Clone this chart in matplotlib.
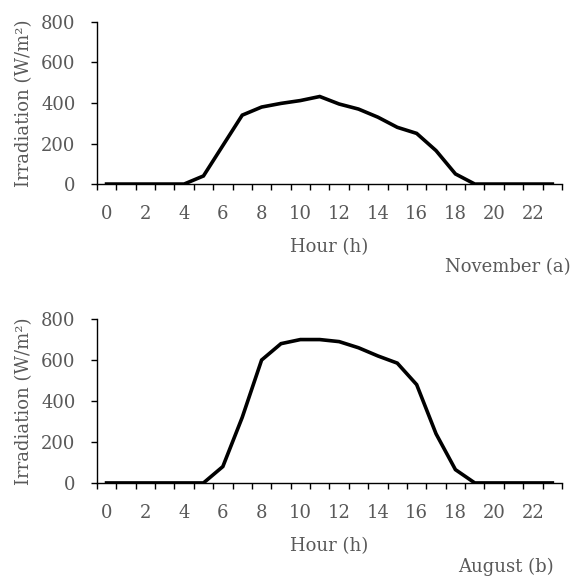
import matplotlib
matplotlib.use("Agg")
import matplotlib.pyplot as plt
import numpy as np

hours = list(range(24))
november = [0, 0, 0, 0, 0, 40, 190, 340, 380, 398, 412, 432,
            395, 370, 330, 280, 250, 165, 50, 0, 0, 0, 0, 0]
august = [0, 0, 0, 0, 0, 0, 80, 320, 600, 680, 700, 700,
          690, 660, 620, 585, 480, 240, 65, 0, 0, 0, 0, 0]
hour_labels = [str(h) for h in range(0, 24, 2)]
y_ticks = [0, 200, 400, 600, 800]

TEXT = "#595959"
FS = 13
plt.rcParams["font.family"] = ["DejaVu Serif"]

fig = plt.figure(figsize=(5.8, 5.77), dpi=100)
# (values, caption, axes rect, caption x, caption y)
panels = [
    (november, "November (a)", [0.167, 0.681, 0.802, 0.281], 0.983, 0.537),
    (august, "August (b)", [0.167, 0.163, 0.802, 0.284], 0.954, 0.017),
]

for values, caption, rect, cap_x, cap_y in panels:
    ax = fig.add_axes(rect)
    ax.plot(hours, values, color="black", linewidth=2.6, solid_joinstyle="miter")
    ax.set_xlim(-0.5, 23.5)
    ax.set_ylim(0, 800)
    for side in ("top", "right"):
        ax.spines[side].set_visible(False)
    for side in ("left", "bottom"):
        ax.spines[side].set_linewidth(1.0)
        ax.spines[side].set_color("black")
    # excel-style category axis: ticks on boundaries, labels on centres
    ax.set_xticks(np.arange(-0.5, 24, 1.0))
    ax.set_xticklabels([])
    ax.set_xticks(range(0, 24, 2), minor=True)
    ax.set_xticklabels(hour_labels, minor=True)
    ax.tick_params(axis="x", which="major", direction="out", length=4.3, width=1)
    ax.tick_params(axis="x", which="minor", length=0, pad=15,
                   labelsize=FS, labelcolor=TEXT)
    ax.set_yticks(y_ticks)
    ax.tick_params(axis="y", direction="out", length=4.3, width=1, pad=11,
                   labelsize=FS, labelcolor=TEXT)
    ax.set_xlabel("Hour (h)", fontsize=FS, color=TEXT, labelpad=11)
    ax.set_ylabel("Irradiation (W/m²)", fontsize=FS, color=TEXT, labelpad=6)
    fig.text(cap_x, cap_y, caption, fontsize=FS, color=TEXT,
             ha="right", va="center")

fig.savefig("out.png", dpi=100, facecolor="white")
